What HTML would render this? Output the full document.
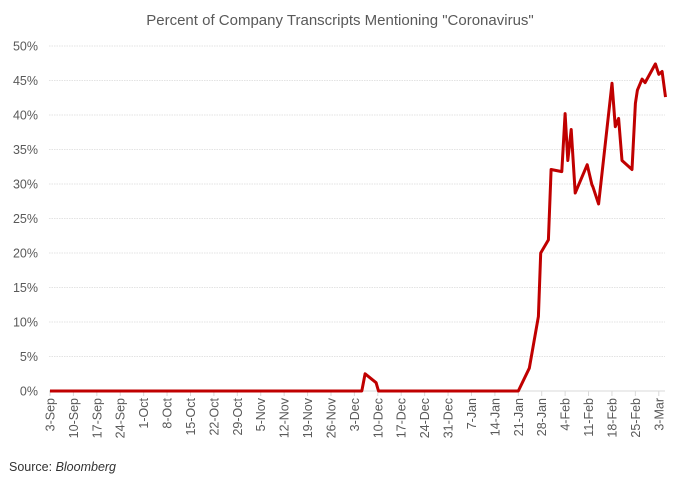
<!DOCTYPE html>
<html><head><meta charset="utf-8"><style>
html,body{margin:0;padding:0;background:#fff;}
svg{display:block;font-family:"Liberation Sans",sans-serif;}
</style></head><body>
<svg id="chart" width="680" height="480" xmlns="http://www.w3.org/2000/svg">
<text x="340" y="25" text-anchor="middle" font-size="15" fill="#595959">Percent of Company Transcripts Mentioning "Coronavirus"</text>
<g id="grid"></g>
<g id="yaxis"></g>
<g id="xaxis"></g>
<g id="series"></g>
<text x="9" y="471" font-size="12.5" fill="#333">Source: <tspan font-style="italic">Bloomberg</tspan></text>
</svg>
<script>
const yTicks = [0,5,10,15,20,25,30,35,40,45,50];
const xTickLabels = ["3-Sep","10-Sep","17-Sep","24-Sep","1-Oct","8-Oct","15-Oct","22-Oct","29-Oct","5-Nov","12-Nov","19-Nov","26-Nov","3-Dec","10-Dec","17-Dec","24-Dec","31-Dec","7-Jan","14-Jan","21-Jan","28-Jan","4-Feb","11-Feb","18-Feb","25-Feb","3-Mar"];
const dayOffsets = [0,93.2,94.2,97.5,98.2,140,143.3,146,146.7,149,149.8,153,154,154.8,155.8,157,160.6,162,162.3,164,168,169,170,171,174,175,175.6,177,177.9,181,182,183,184];
const pctValues = [0,0,2.5,1.2,0,0,3.3,10.8,20,21.9,32.1,31.8,40.2,33.4,37.9,28.7,32.8,29.9,29.6,27.1,44.6,38.3,39.5,33.4,32.1,41.7,43.6,45.2,44.7,47.4,45.9,46.3,42.6];

const NS="http://www.w3.org/2000/svg";
const x0=50, pxPerDay=3.345, yZero=391, pxPerPct=6.9;
const xs=d=>x0+d*pxPerDay;
const ys=v=>yZero-v*pxPerPct;
function mk(tag,parent){const e=document.createElementNS(NS,tag);document.getElementById(parent).appendChild(e);return e;}

yTicks.forEach(t=>{
  const l=mk('line','grid');
  
  
  l.setAttribute('x1',49);l.setAttribute('x2',665);l.setAttribute('y1',ys(t));l.setAttribute('y2',ys(t));
  l.setAttribute('stroke',t===0?'#d9d9d9':'#e3e3e3');l.setAttribute('stroke-width',1);
  if(t!==0)l.setAttribute('stroke-dasharray','1.5,1');
  const tx=mk('text','yaxis');
  
  
  tx.setAttribute('x',38);tx.setAttribute('y',ys(t)+4.5);tx.setAttribute('text-anchor','end');
  tx.setAttribute('font-size',12.5);tx.setAttribute('fill','#595959');tx.textContent=t+'%';
});
xTickLabels.forEach((lab,i)=>{
  const x=xs(i*7);
  const tk=mk('line','xaxis');
  
  
  tk.setAttribute('x1',x);tk.setAttribute('x2',x);tk.setAttribute('y1',yZero);tk.setAttribute('y2',yZero+5);
  tk.setAttribute('stroke','#d9d9d9');
  const tx=mk('text','xaxis');
  
  
  tx.setAttribute('transform','translate('+(x+4.5)+','+(yZero+7)+') rotate(-90)');
  tx.setAttribute('text-anchor','end');tx.setAttribute('font-size',12.5);tx.setAttribute('fill','#595959');
  tx.textContent=lab;
});
const p=mk('polyline','series');


p.setAttribute('points',dayOffsets.map((d,i)=>xs(d).toFixed(1)+','+ys(pctValues[i]).toFixed(1)).join(' '));
p.setAttribute('fill','none');p.setAttribute('stroke','#c00000');p.setAttribute('stroke-width',3);p.setAttribute('stroke-linejoin','round');
</script>
</body></html>
